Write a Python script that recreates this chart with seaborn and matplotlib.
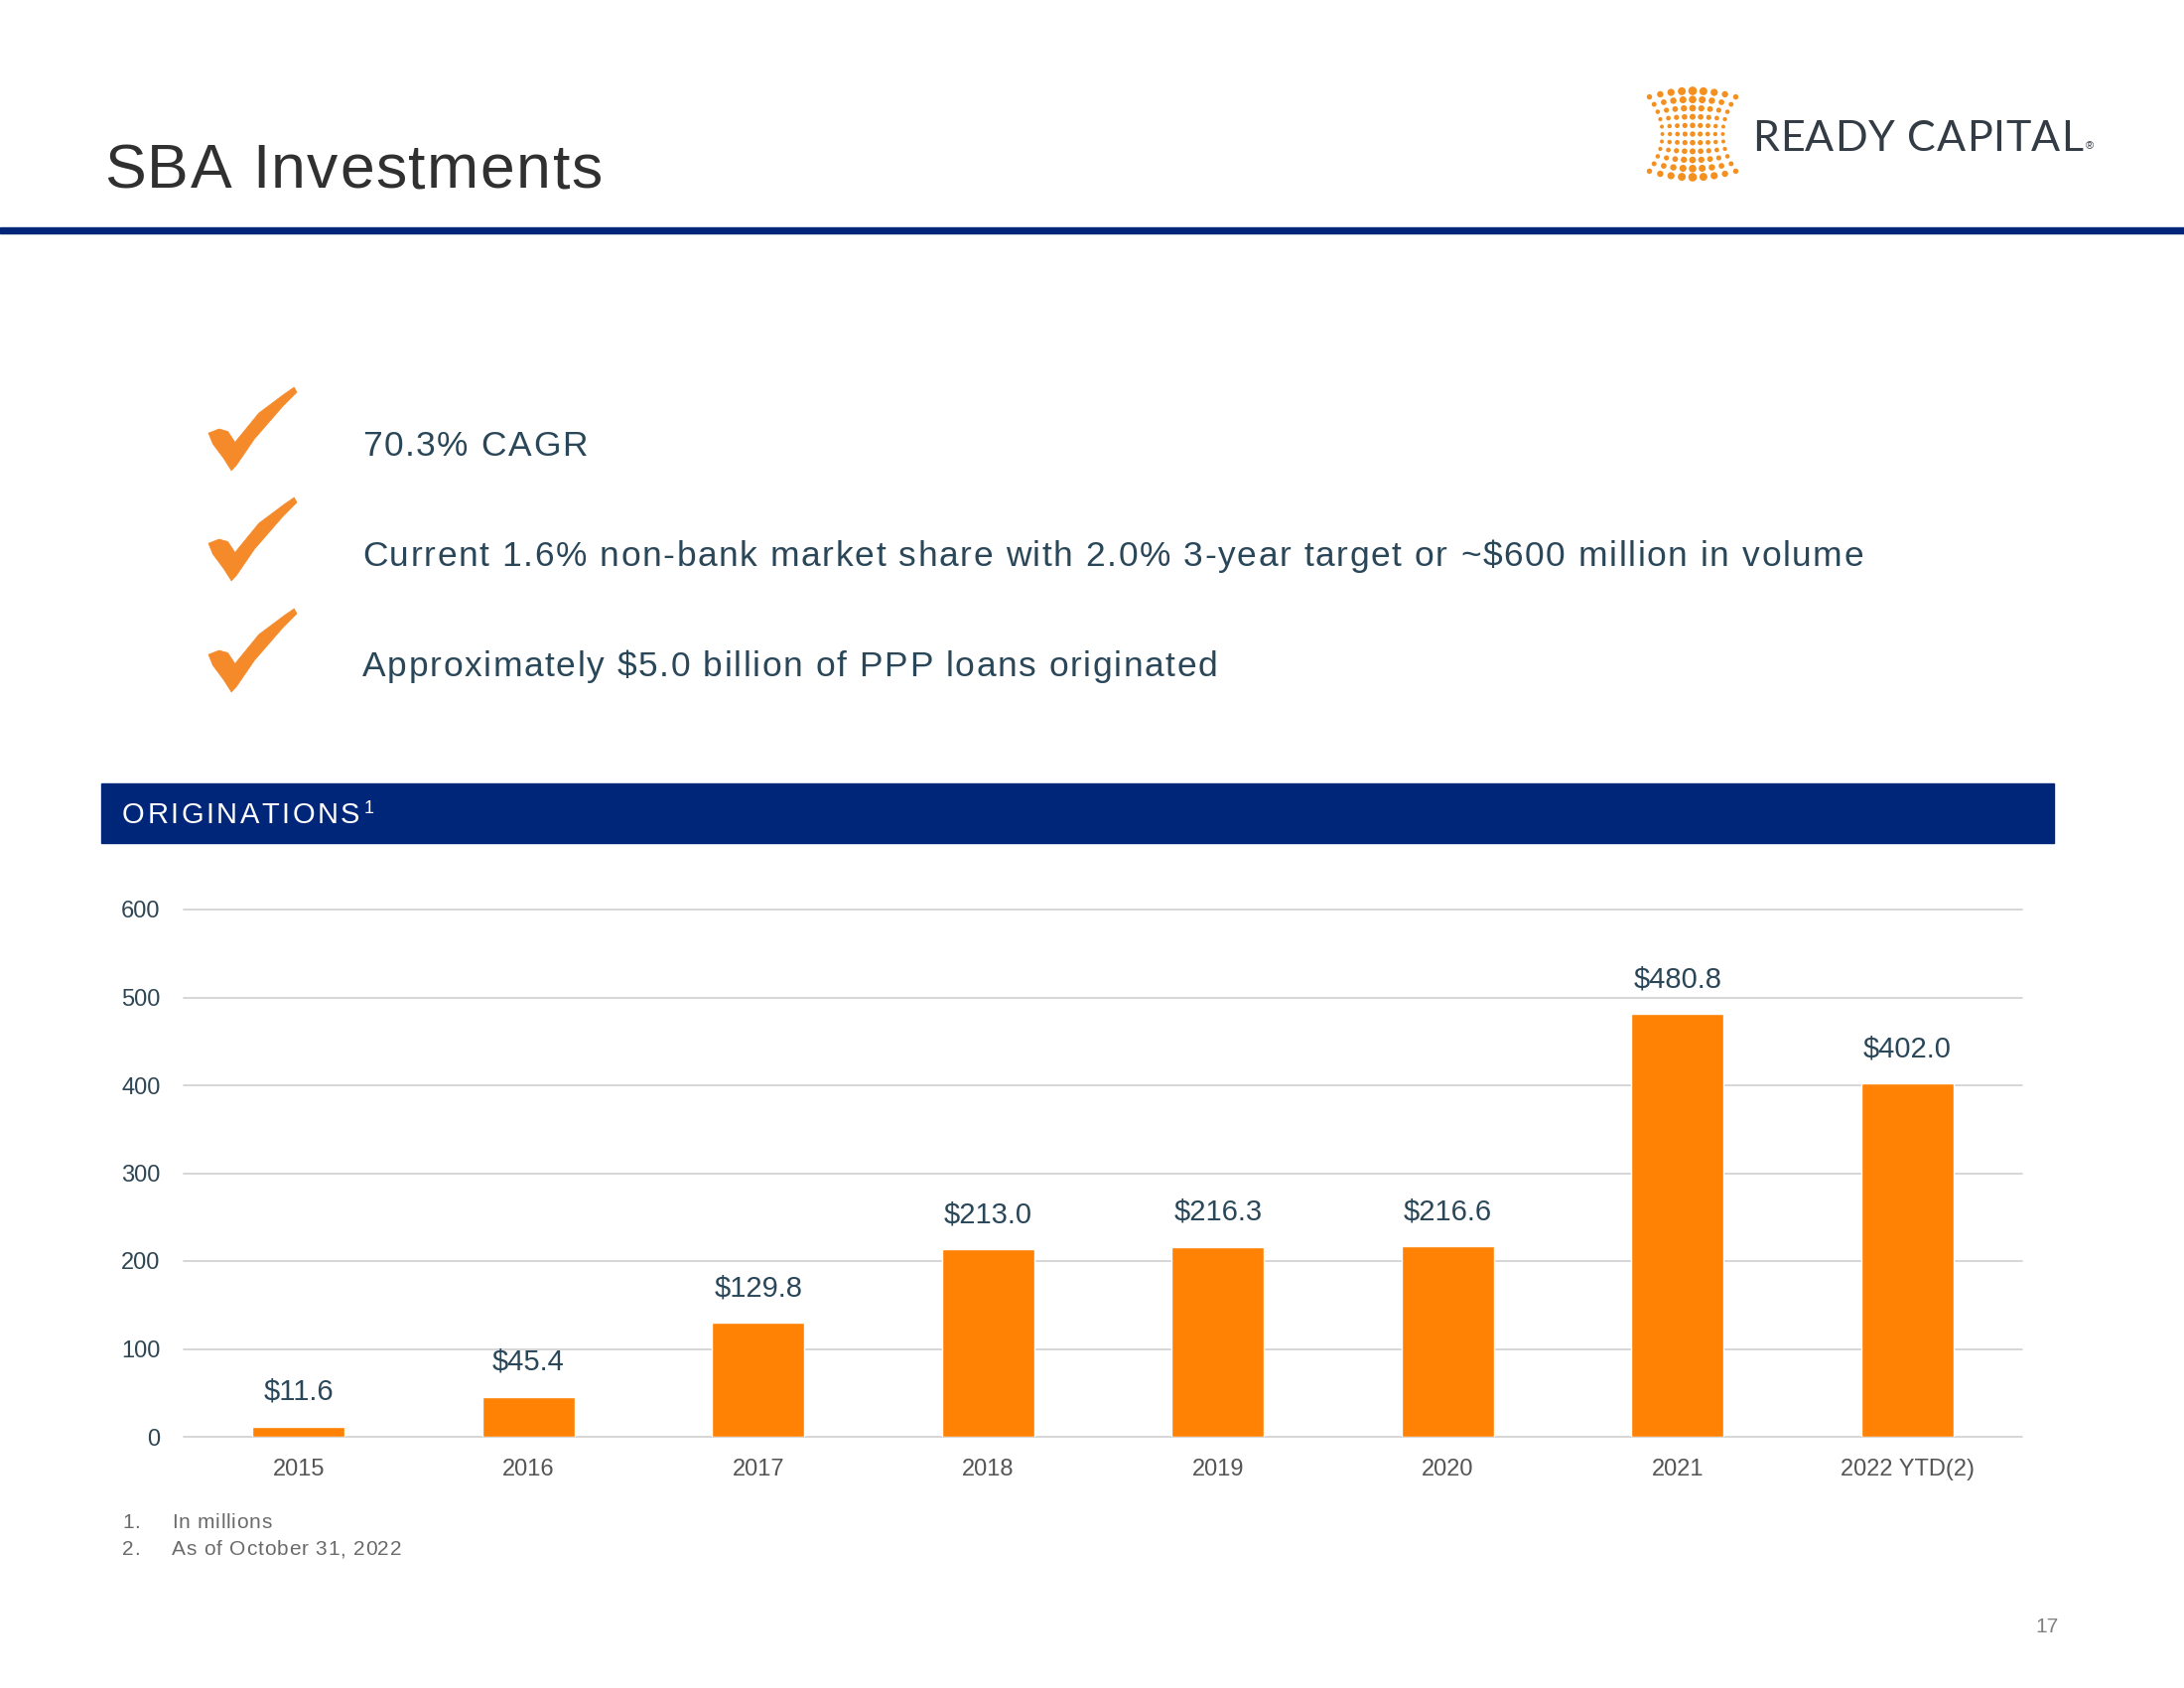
import numpy as np
import matplotlib
matplotlib.use("Agg")
import matplotlib.pyplot as plt
from matplotlib.patches import Rectangle, Polygon
from matplotlib.font_manager import FontProperties, findfont
from matplotlib.ft2font import FT2Font
import seaborn as sns

# ---- data ----
categories = ["2015", "2016", "2017", "2018", "2019", "2020", "2021", "2022 YTD(2)"]
originations = [11.6, 45.4, 129.8, 213.0, 216.3, 216.6, 480.8, 402.0]
value_labels = ["$11.6", "$45.4", "$129.8", "$213.0", "$216.3", "$216.6", "$480.8", "$402.0"]
y_ticks = [0, 100, 200, 300, 400, 500, 600]
bullets = [
    "70.3% CAGR",
    "Current 1.6% non-bank market share with 2.0% 3-year target or ~$600 million in volume",
    "Approximately $5.0 billion of PPP loans originated",
]
footnotes = [("1.", "In millions"), ("2.", "As of October 31, 2022")]

NAVY = "#00267A"
ORANGE = "#FF8205"
CHECK = "#F58A2A"
SLATE = "#2A4759"
FONT = ["Liberation Sans", "DejaVu Sans"]

sns.set_theme(style="white")
plt.rcParams["font.family"] = FONT

W, H, DPI = 2200, 1700, 100
fig = plt.figure(figsize=(W / DPI, H / DPI), dpi=DPI)
bg = fig.add_axes([0, 0, 1, 1])
bg.axis("off")
bg.set_zorder(5)


def fx(px):
    return px / W


def fy(py):
    return 1 - py / H


def char_advances(s, size_pt, family=FONT):
    font = FT2Font(findfont(FontProperties(family=family, size=size_pt)))
    font.set_size(size_pt, DPI)
    return [font.load_char(ord(ch)).linearHoriAdvance / 65536.0 for ch in s]


def spaced_text(x_px, base_px, s, size, color, spacing, family=FONT):
    x = x_px
    for ch, a in zip(s, char_advances(s, size, family)):
        if ch != " ":
            bg.text(fx(x), fy(base_px), ch, transform=fig.transFigure, fontsize=size,
                    color=color, ha="left", va="baseline", family=family)
        x += a + spacing
    return x - spacing


def cap(size_pt):
    return 0.716 * size_pt * DPI / 72.0


# ---- header ----
spaced_text(105, 189, "SBA Investments", 45, "#303030", 1.6)
fig.patches.append(Rectangle((0, fy(235)), 1, 6 / H, transform=fig.transFigure,
                             color=NAVY, zorder=2))

# logo text
LOGO_FONT = ["Lato", "Liberation Sans", "DejaVu Sans"]
end = spaced_text(1765, 152, "READY CAPITAL", 31, "#333C45", 0.8, family=LOGO_FONT)
bg.text(fx(end + 3), fy(150), "®", transform=fig.transFigure, fontsize=8,
        color="#333C45", ha="left", va="baseline")

# logo dots
lax = fig.add_axes([fx(1655), fy(185), fx(100), 100 / H])
lax.set_xlim(-1.15, 1.15)
lax.set_ylim(-1.15, 1.15)
lax.axis("off")
xs, ys, ss = [], [], []
for r in range(11):
    t = (r - 5) / 5
    for c in range(-4, 5):
        s = c / 4
        xs.append(s * (0.70 + 0.30 * t * t))
        ys.append(t * (0.86 + 0.14 * (1 - s * s)))
        ss.append(5 + 34 * (1 - 0.7 * abs(s)) * (0.3 + 0.7 * t * t))
lax.scatter(xs, ys, s=ss, color="#F39020", linewidths=0)

# ---- check marks and bullets ----
check_shape = np.array([
    (0.00, 0.45), (0.12, 0.50), (0.22, 0.47), (0.30, 0.34), (0.57, 0.69),
    (0.86, 0.92), (0.97, 1.00), (1.00, 0.94), (0.84, 0.77), (0.52, 0.38),
    (0.32, 0.07), (0.26, 0.00), (0.17, 0.15), (0.05, 0.32),
])
check_tops = [390, 501, 613]
for top in check_tops:
    x0, y0 = 210, top + 84
    pts = [(fx(x0 + px * 89), fy(y0 - py * 84)) for px, py in check_shape]
    fig.patches.append(Polygon(pts, closed=True, transform=fig.transFigure,
                               facecolor=CHECK, edgecolor=CHECK, linewidth=0.5))

BUL = 25.5
bullet_y = [446, 557, 668]
for txt, yy in zip(bullets, bullet_y):
    spaced_text(365, yy + cap(BUL) / 2, txt, BUL, SLATE, 1.6)

# ---- section band ----
fig.patches.append(Rectangle((fx(102), fy(849)), fx(2069 - 102), 60 / H,
                             transform=fig.transFigure, color=NAVY, zorder=1))
end = spaced_text(123, 819 + cap(21) / 2, "ORIGINATIONS", 21, "white", 2.5)
bg.text(fx(end + 4), fy(819 - cap(21) / 2 + cap(13) - 2), "1", transform=fig.transFigure,
        fontsize=13, color="white", ha="left", va="baseline")

# ---- bar chart ----
ax = fig.add_axes([fx(185), fy(1447), fx(2037 - 185), (1447 - 916) / H])
sns.barplot(x=categories, y=originations, color=ORANGE, saturation=1, width=0.4,
            ax=ax, zorder=3)
ax.set_xlim(-0.5, len(categories) - 0.5)
ax.set_ylim(0, 600)
ax.set_yticks(y_ticks)
ax.set_yticklabels([str(v) for v in y_ticks])
ax.yaxis.grid(True, color="#CFCFCF", linewidth=1.2)
ax.xaxis.grid(False)
ax.set_axisbelow(True)
for gl in ax.get_ygridlines():
    gl.set_clip_on(False)
for sp in ax.spines.values():
    sp.set_visible(False)
ax.tick_params(axis="y", length=0, pad=17, labelsize=17, labelcolor="#2E4553")
ax.tick_params(axis="x", length=0, pad=16, labelsize=17, labelcolor="#555555")
ax.set_xlabel("")
ax.set_ylabel("")
ax.bar_label(ax.containers[0], labels=value_labels, padding=15, fontsize=21, color=SLATE)

# ---- footnotes ----
FN = 15
for (num, txt), yy in zip(footnotes, [1532, 1559]):
    spaced_text(123, yy + cap(FN) / 2, num, FN, "#6A6A6A", 0.8)
    spaced_text(173, yy + cap(FN) / 2, txt, FN, "#6A6A6A", 0.8)

bg.text(fx(2062), fy(1639), "17", transform=fig.transFigure, fontsize=15,
        color="#808080", ha="center", va="center")

fig.savefig("out.png", dpi=DPI, facecolor="white")
